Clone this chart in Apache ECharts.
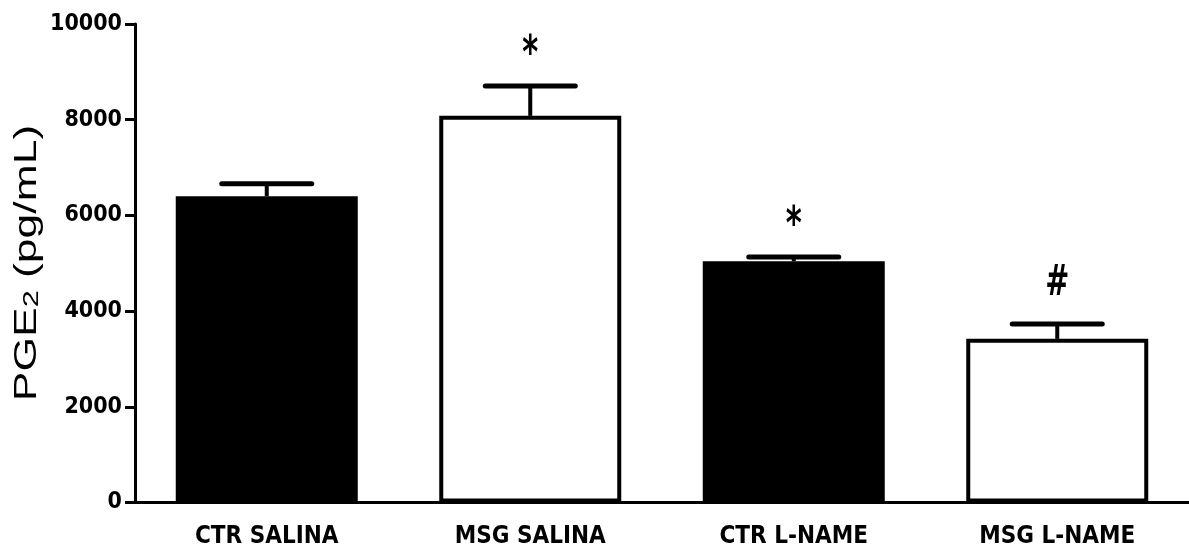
<!DOCTYPE html>
<html>
<head>
<meta charset="utf-8">
<script src="https://cdn.jsdelivr.net/npm/echarts@6/dist/echarts.min.js"></script>
<style>
html,body{margin:0;padding:0;background:#fff;}
#chart{width:1189px;height:554px;}
</style>
</head>
<body>
<div id="chart"></div>
<script>
const categories = ['CTR SALINA', 'MSG SALINA', 'CTR L-NAME', 'MSG L-NAME'];
const means = [6400, 8080, 5040, 3420];
const sem = [260, 625, 90, 310];
const marks = ['', '*', '*', '#'];
const yTicks = [0, 2000, 4000, 6000, 8000, 10000];

const fills = ['#000000', '#ffffff', '#000000', '#ffffff'];
const NARROW = '"Liberation Sans Narrow", "Arial Narrow", "DejaVu Sans Condensed", sans-serif';

const chart = echarts.init(document.getElementById('chart'), null, {renderer: 'canvas'});

const barData = means.map((v, i) => ({
  value: v,
  itemStyle: {color: fills[i], borderColor: '#000', borderWidth: 4}
}));
const errData = means.map((v, i) => [i, v, v + sem[i], marks[i]]);

const option = {
  animation: false,
  backgroundColor: '#ffffff',
  grid: {left: 135, top: 24, width: 1056, bottom: 51.5, containLabel: false},
  xAxis: {
    type: 'category',
    data: categories,
    axisLine: {lineStyle: {color: '#000', width: 3}},
    axisTick: {show: false},
    axisLabel: {
      color: '#000', fontFamily: NARROW, fontWeight: 'bold', fontSize: 24, margin: 22
    },
    splitLine: {show: false}
  },
  yAxis: {
    type: 'value',
    min: yTicks[0],
    max: yTicks[yTicks.length - 1],
    interval: 2000,
    axisLine: {show: true, lineStyle: {color: '#000', width: 3}},
    axisTick: {show: true, length: 10, lineStyle: {color: '#000', width: 3}},
    axisLabel: {
      color: '#000', fontFamily: NARROW, fontWeight: 'bold', fontSize: 23, margin: 13,
      formatter: function (v) { return String(v); }
    },
    splitLine: {show: false}
  },
  graphic: [{
    type: 'text',
    x: 27, y: 263,
    rotation: Math.PI / 2,
    scaleX: 1.39,
    style: {
      text: '{a|PGE}{s|2}{a| (pg/mL)}',
      rich: {
        a: {fontFamily: 'Arial, "Liberation Sans", sans-serif', fontSize: 32, fill: '#000', verticalAlign: 'bottom'},
        s: {fontFamily: 'Arial, "Liberation Sans", sans-serif', fontSize: 22, fill: '#000', verticalAlign: 'bottom'}
      },
      align: 'center',
      verticalAlign: 'middle'
    }
  }],
  series: [
    {
      type: 'bar',
      data: barData,
      barWidth: 182,
      z: 2
    },
    {
      type: 'custom',
      z: 3,
      data: errData,
      encode: {x: 0, y: [1, 2]},
      renderItem: function (params, api) {
        const i = api.value(0);
        const top = api.coord([i, api.value(1)]);
        const up = api.coord([i, api.value(2)]);
        const half = 45;
        const children = [
          {type: 'line', shape: {x1: top[0], y1: top[1], x2: up[0], y2: up[1]},
           style: {stroke: '#000', lineWidth: 4}},
          {type: 'line', shape: {x1: up[0] - half, y1: up[1], x2: up[0] + half, y2: up[1]},
           style: {stroke: '#000', lineWidth: 5, lineCap: 'round'}}
        ];
        const m = marks[params.dataIndex];
        if (m) {
          const isStar = m === '*';
          children.push({
            type: 'text',
            x: up[0],
            y: isStar ? up[1] - 53 : up[1] - 40,
            scaleY: 1.35,
            style: {
              text: m,
              fontFamily: NARROW,
              fontWeight: 'bold',
              fontSize: isStar ? 34 : 32,
              fill: '#000',
              align: 'center',
              verticalAlign: isStar ? 'top' : 'middle'
            }
          });
        }
        return {type: 'group', children: children};
      }
    }
  ]
};
chart.setOption(option);
</script>
</body>
</html>
